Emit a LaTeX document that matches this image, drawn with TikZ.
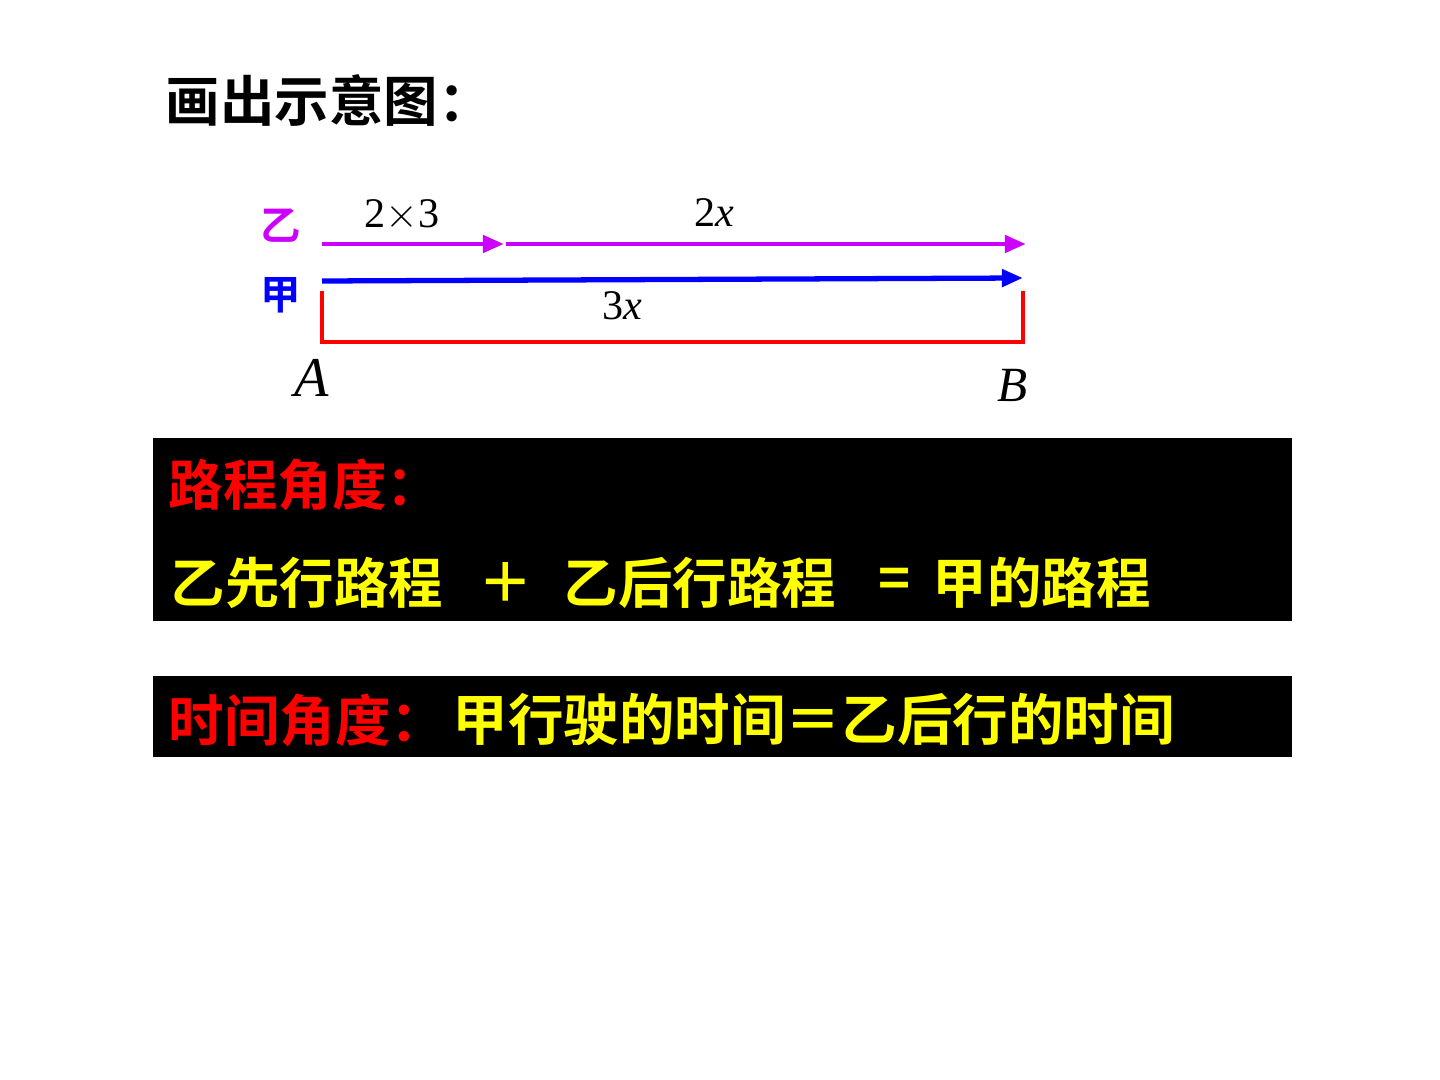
\documentclass[tikz,border=0pt]{standalone}
\usepackage{fontspec}
\setmainfont{Liberation Serif}
\newfontfamily\cjk{Noto Sans CJK SC}[BoldFont={Noto Sans CJK SC Bold}]
\usetikzlibrary{arrows.meta,positioning}

\definecolor{yimag}{RGB}{204,0,255}
\definecolor{hlyellow}{RGB}{255,255,0}

\begin{document}
\begin{tikzpicture}[
  yiarr/.style={-{Triangle[length=6pt,width=4.8pt]}, line width=1.4pt, yimag},
  jiaarr/.style={-{Triangle[length=6pt,width=4.8pt]}, line width=1.5pt, blue},
  bracket/.style={line width=1.4pt, red},
  panel/.style={fill=black, draw=none},
  big/.style={font=\cjk\bfseries\fontsize{15.5}{18}\selectfont, inner sep=0pt, anchor=west},
  lbl/.style={font=\fontsize{12}{14}\selectfont, inner sep=0pt}
]
\useasboundingbox (0,0) rectangle (14.4,-10.8);

% Title
\node[big, font=\cjk\bfseries\fontsize{15.5}{18}\selectfont] (title) at (1.65,-1.0) {画出示意图：};

% Runners
\node[font=\cjk\bfseries\fontsize{11.5}{14}\selectfont, text=yimag, inner sep=0pt] (yi) at (2.81,-2.26) {乙};
\node[font=\cjk\bfseries\fontsize{11.5}{14}\selectfont, text=blue, inner sep=0pt] (jia) at (2.81,-2.95) {甲};

% Distances
\coordinate (yiS) at (3.22,-2.44);
\coordinate (yiM) at (5.04,-2.44);
\coordinate (yiN) at (5.06,-2.44);
\coordinate (yiE) at (10.26,-2.44);
\coordinate (jiaS) at (3.22,-2.81);
\coordinate (jiaE) at (10.23,-2.78);
\draw[yiarr] (yiS) -- (yiM);
\draw[yiarr] (yiN) -- (yiE);
\draw[jiaarr] (jiaS) -- (jiaE);

\node[lbl] (first) at (4.02,-2.15) {2$\times$3};
\node[lbl] (rest) at (7.14,-2.13) {2\textit{x}};
\node[lbl] (whole) at (6.22,-3.06) {3\textit{x}};

% Segment AB
\coordinate (A) at (3.22,-2.91);
\coordinate (B) at (10.23,-2.91);
\draw[bracket] (A) -- ++(0,-0.51) -| (B);
\node[font=\itshape\fontsize{16}{18}\selectfont, inner sep=0pt] (labA) at (3.12,-3.78) {A};
\node[font=\itshape\fontsize{14}{16}\selectfont, inner sep=0pt] (labB) at (10.13,-3.85) {B};

% Distance view
\fill[panel] (1.53,-4.38) rectangle (12.92,-6.21);
\node[big, text=red] (dview) at (1.68,-4.85) {路程角度：};
\node[big, text=hlyellow] (d1) at (1.70,-5.83) {乙先行路程};
\node[big, text=hlyellow] (plus) at (4.78,-5.83) {＋};
\node[big, text=hlyellow] (d2) at (5.63,-5.83) {乙后行路程};
\node[big, text=hlyellow] (eq) at (8.78,-5.83) {=};
\node[big, text=hlyellow] (d3) at (9.32,-5.83) {甲的路程};

% Time view
\fill[panel] (1.53,-6.76) rectangle (12.92,-7.57);
\node[big, text=red, font=\cjk\bfseries\fontsize{15.8}{18}\selectfont] (tview) at (1.68,-7.2) {时间角度：};
\node[big, text=hlyellow, font=\cjk\bfseries\fontsize{15.8}{18}\selectfont, right=0.05 of tview] (t1) {甲行驶的时间＝乙后行的时间};

\end{tikzpicture}
\end{document}
